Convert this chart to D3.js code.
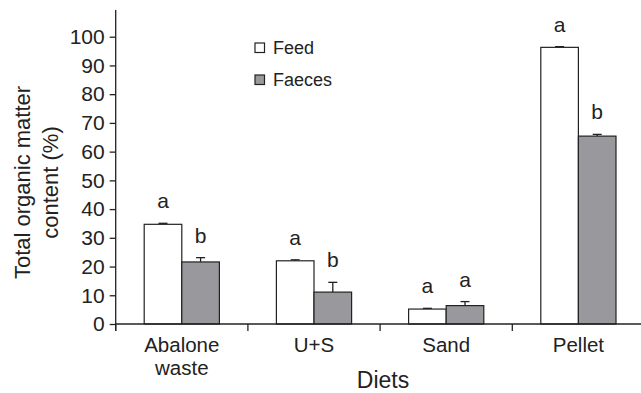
<!DOCTYPE html>
<html>
<head>
<meta charset="utf-8">
<script src="https://cdn.jsdelivr.net/npm/d3@7"></script>
<style>
  body { margin: 0; background: #fff; }
  svg text { font-family: "Liberation Sans", Arial, sans-serif; fill: #222; }
</style>
</head>
<body>
<div id="chart"></div>
<script>
// chart data
var diets = ["Abalone waste", "U+S", "Sand", "Pellet"];
var series = ["Feed", "Faeces"];
var feedValues = [34.7, 22.0, 5.2, 96.3];
var feedErrors = [0.35, 0.35, 0.25, 0.25];
var faecesValues = [21.6, 11.1, 6.4, 65.4];
var faecesErrors = [1.5, 3.4, 1.4, 0.6];
var feedLetters = ["a", "a", "a", "a"];
var faecesLetters = ["b", "b", "a", "b"];
var yTicks = [0, 10, 20, 30, 40, 50, 60, 70, 80, 90, 100];
var yMax = 109.3;

var chart_width = 641, chart_height = 393;
var plot_left = 115.7, plot_bottom = 324, plot_top = 10;

var svg = d3.select("#chart").append("svg")
    .attr("width", chart_width)
    .attr("height", chart_height);

// scales
var x0 = d3.scaleBand().domain(diets).range([plot_left, plot_left + 4 * 132.2]).padding(0);
var barW = 37.6;
var x1 = d3.scaleBand().domain(series)
    .range([x0.bandwidth() / 2 - barW, x0.bandwidth() / 2 + barW]).padding(0);
var y = d3.scaleLinear().domain([0, yMax]).range([plot_bottom, plot_top]);

var fills = { "Feed": "#ffffff", "Faeces": "#99999d" };

var rows = diets.map(function (d, i) {
    return [
        { diet: d, s: "Feed", v: feedValues[i], e: feedErrors[i], l: feedLetters[i] },
        { diet: d, s: "Faeces", v: faecesValues[i], e: faecesErrors[i], l: faecesLetters[i] }
    ];
});
var flat = [].concat.apply([], rows);

function barMid(d) { return x0(d.diet) + x1(d.s) + barW / 2; }

// error bars (drawn first so bar outline sits on top)
var err = svg.append("g").attr("stroke", "#222").attr("stroke-width", 1.3);
err.selectAll("line.v").data(flat).enter().append("line")
    .attr("x1", barMid)
    .attr("x2", barMid)
    .attr("y1", function (d) { return y(d.v); })
    .attr("y2", function (d) { return y(d.v + d.e); });
err.selectAll("line.c").data(flat).enter().append("line")
    .attr("x1", function (d) { return barMid(d) - 4.5; })
    .attr("x2", function (d) { return barMid(d) + 4.5; })
    .attr("y1", function (d) { return y(d.v + d.e); })
    .attr("y2", function (d) { return y(d.v + d.e); });

// bars
svg.append("g").selectAll("rect").data(flat).enter().append("rect")
    .attr("x", function (d) { return x0(d.diet) + x1(d.s); })
    .attr("y", function (d) { return y(d.v); })
    .attr("width", barW)
    .attr("height", function (d) { return y(0) - y(d.v); })
    .attr("fill", function (d) { return fills[d.s]; })
    .attr("stroke", "#222")
    .attr("stroke-width", 1.2);

// significance letters
svg.append("g").selectAll("text").data(flat).enter().append("text")
    .attr("x", barMid)
    .attr("y", function (d) { return y(d.v + d.e) - 15; })
    .attr("text-anchor", "middle")
    .attr("font-size", 21)
    .text(function (d) { return d.l; });

// y axis
var yAxis = d3.axisLeft(y).tickValues(yTicks).tickSize(6).tickPadding(5);
var gy = svg.append("g")
    .attr("transform", "translate(" + plot_left + ",0)")
    .call(yAxis);
gy.select(".domain").remove();
gy.selectAll(".tick line").attr("stroke", "#222").attr("stroke-width", 1.3);
gy.selectAll(".tick text").attr("font-size", 21).attr("fill", "#222")
    .attr("font-family", "Liberation Sans, Arial, sans-serif");
gy.append("line")
    .attr("x1", 0).attr("x2", 0)
    .attr("y1", y(yMax)).attr("y2", y(0) + 7)
    .attr("stroke", "#222").attr("stroke-width", 1.3);

// x axis
var gx = svg.append("g");
gx.append("line")
    .attr("x1", plot_left).attr("x2", chart_width)
    .attr("y1", plot_bottom).attr("y2", plot_bottom)
    .attr("stroke", "#222").attr("stroke-width", 1.5);
gx.selectAll("line.tk").data(diets).enter().append("line")
    .attr("x1", function (d) { return x0(d); })
    .attr("x2", function (d) { return x0(d); })
    .attr("y1", plot_bottom).attr("y2", plot_bottom + 7)
    .attr("stroke", "#222").attr("stroke-width", 1.3);

var catLabels = gx.selectAll("text.cat").data(diets).enter().append("text")
    .attr("x", function (d) { return x0(d) + x0.bandwidth() / 2; })
    .attr("y", 352)
    .attr("text-anchor", "middle")
    .attr("font-size", 20.5);
catLabels.each(function (d) {
    var parts = d === "Abalone waste" ? ["Abalone", "waste"] : [d];
    var t = d3.select(this);
    parts.forEach(function (p, i) {
        t.append("tspan")
            .attr("x", x0(d) + x0.bandwidth() / 2)
            .attr("dy", i === 0 ? 0 : 23)
            .text(p);
    });
});

// axis titles
svg.append("text")
    .attr("x", 383).attr("y", 388)
    .attr("text-anchor", "middle")
    .attr("font-size", 23)
    .text("Diets");

var yTitle = svg.append("text")
    .attr("transform", "translate(29.5,182.5) rotate(-90)")
    .attr("text-anchor", "middle")
    .attr("font-size", 22);
yTitle.append("tspan").attr("x", 0).attr("dy", 0).text("Total organic matter");
yTitle.append("tspan").attr("x", 0).attr("dy", 28).text("content (%)");

// legend
var legend = svg.append("g").selectAll("g").data(series).enter().append("g")
    .attr("transform", function (d, i) { return "translate(255," + (43 + i * 32) + ")"; });
legend.append("rect")
    .attr("width", 9.5).attr("height", 9.5)
    .attr("fill", function (d) { return fills[d]; })
    .attr("stroke", "#222").attr("stroke-width", 1.2);
legend.append("text")
    .attr("x", 18).attr("y", 11)
    .attr("font-size", 18)
    .text(function (d) { return d; });
</script>
</body>
</html>
